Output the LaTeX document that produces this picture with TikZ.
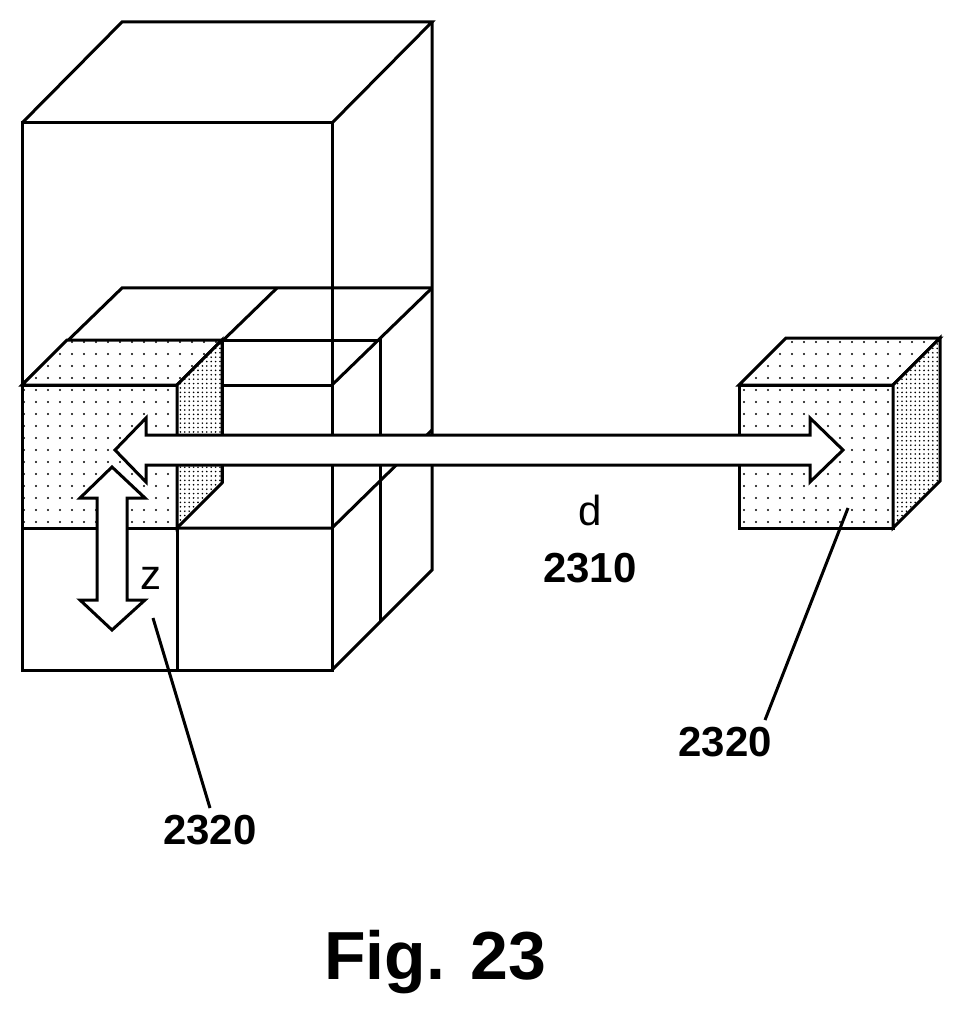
\documentclass[tikz,border=0pt]{standalone}
\usepackage{fontspec}
\setmainfont{Liberation Sans}
\usetikzlibrary{patterns.meta}
\tikzset{
  edge/.style = {line width=1.5pt, line join=miter},
  sparse/.style = {fill=white, postaction={pattern={Dots[radius=0.6pt, distance=6pt]}}},
  dense/.style = {fill=white, postaction={pattern={Dots[radius=0.45pt, distance=2.2pt]}}},
  bigarrow/.style = {line width=1.5pt, fill=white},
  label/.style = {font=\bfseries\fontsize{21}{21}\selectfont},
}
\begin{document}
\begin{tikzpicture}[x=0.5pt, y=-0.5pt]
  \useasboundingbox (0,0) rectangle (963,1026);
  % tall box
  \draw [edge] (22,123) rectangle (332,670);
  \draw [edge] (22,123) -- (122,22) -- (432,22) -- (332,123);
  \draw [edge] (432,22) -- (432,570) -- (332,670);
  % lower block grid
  \draw [edge] (22,385) -- (122,288) -- (432,288);
  \draw [edge] (177,385) -- (277,288);
  \draw [edge] (332,385) -- (432,288);
  \draw [edge] (22,385) -- (332,385);
  \draw [edge] (22,528) -- (332,528) -- (432,430);
  \draw [edge] (177,385) -- (177,670);
  \draw [edge] (222,340) -- (380,340) -- (380,622);
  \draw [edge] (222,340) -- (222,483);
  % left small cube
  \draw [edge, sparse] (22,385) rectangle (177,528);
  \draw [edge, sparse] (22,385) -- (67,340) -- (222,340) -- (177,385) -- cycle;
  \draw [edge, dense] (177,385) -- (222,340) -- (222,483) -- (177,528) -- cycle;
  % right small cube
  \draw [edge, sparse] (739,385) rectangle (893,528);
  \draw [edge, sparse] (739,385) -- (786,338) -- (940,338) -- (893,385) -- cycle;
  \draw [edge, dense] (893,385) -- (940,338) -- (940,481) -- (893,528) -- cycle;
  % arrows
  \draw [bigarrow] (112,467) -- (145,498) -- (127,498) -- (127,600) -- (145,600)
    -- (112,630) -- (80,600) -- (97,600) -- (97,498) -- (80,498) -- cycle;
  \draw [bigarrow] (115,450) -- (146,418) -- (146,435) -- (810,435) -- (810,418)
    -- (843,450) -- (810,482) -- (810,465) -- (146,465) -- (146,482) -- cycle;
  % labels
  \node (zlabel) at (151,578) {\fontsize{21}{21}\selectfont z};
  \node (dlabel) at (590,510) {\fontsize{21}{21}\selectfont d};
  \node [label] (dist) at (590,568) {2310};
  \node [label] (leftcube) at (210,830) {2320};
  \node [label] (rightcube) at (725,742) {2320};
  \node (caption) at (435,962) {\bfseries\fontsize{34}{34}\selectfont Fig. 23};
  \coordinate (leftend) at (153,618);
  \coordinate (rightend) at (848,508);
  \draw [edge] (leftend) -- (leftcube.north) ++(18,-18);
  \draw [edge] (rightend) -- ([xshift=20]rightcube.north);
\end{tikzpicture}
\end{document}
